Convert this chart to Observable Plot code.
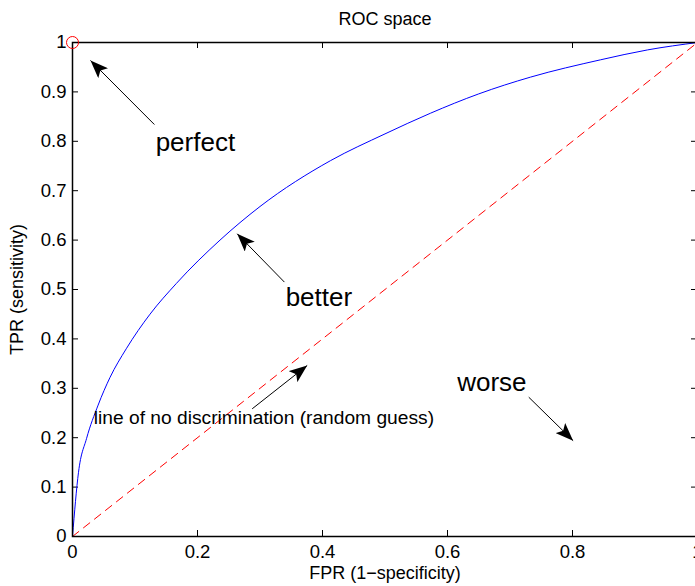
<!DOCTYPE html>
<html>
<head>
<meta charset="utf-8">
<script src="https://cdn.jsdelivr.net/npm/d3@7"></script>
<script src="https://cdn.jsdelivr.net/npm/@observablehq/plot@0.6"></script>
<style>
  html, body { margin: 0; padding: 0; background: white; overflow: hidden; }
</style>
</head>
<body>
<div id="chart"></div>
<script>
// ROC curve of a classifier (false positive rate vs true positive rate)
const fpr = [0, 0.0096, 0.0224, 0.041, 0.060, 0.086, 0.124, 0.166, 0.236, 0.300, 0.413, 0.500, 0.573, 0.650, 0.733, 0.845, 0.920, 1];
const tpr = [0, 0.130, 0.198, 0.266, 0.322, 0.380, 0.450, 0.512, 0.600, 0.668, 0.761, 0.815, 0.857, 0.896, 0.930, 0.965, 0.985, 1];

// Diagonal: line of no discrimination
const diagX = [0, 1];
const diagY = [0, 1];

// Perfect classifier point
const perfectPoint = [{x: 0, y: 1}];

// Axis ticks and their labels
const xTicks = [0, 0.2, 0.4, 0.6, 0.8, 1];
const xTickLabels = ["0", "0.2", "0.4", "0.6", "0.8", "1"];
const yTicks = [0, 0.1, 0.2, 0.3, 0.4, 0.5, 0.6, 0.7, 0.8, 0.9, 1];
const yTickLabels = ["0", "0.1", "0.2", "0.3", "0.4", "0.5", "0.6", "0.7", "0.8", "0.9", "1"];

// Annotation labels (anchored at their left edge, vertically centred)
const noteText = ["perfect", "better", "worse", "line of no discrimination (random guess)"];
const noteX = [0.133, 0.341, 0.6155, 0.0341];
const noteY = [0.798, 0.484, 0.312, 0.240];
const noteSize = [26, 26, 26, 19.2];

// Annotation arrows (tail -> head)
const arrowX1 = [0.131, 0.339, 0.2875, 0.730];
const arrowY1 = [0.834, 0.515, 0.2585, 0.282];
const arrowX2 = [0.0288, 0.2635, 0.3755, 0.801];
const arrowY2 = [0.9636, 0.6128, 0.3462, 0.194];

const curve = fpr.map((x, i) => ({x, y: tpr[i]}));
const diag = diagX.map((x, i) => ({x, y: diagY[i]}));
const notes = noteText.map((t, i) => ({t, x: noteX[i], y: noteY[i], s: noteSize[i]}));
const arrows = arrowX1.map((x1, i) => ({x1, y1: arrowY1[i], x2: arrowX2[i], y2: arrowY2[i]}));

const W = 695, H = 586;
const mL = 72, mR = -2, mT = 42, mB = 50;
const plotW = W - mL - mR, plotH = H - mT - mB;
const tickLen = 6;
const font = "'Liberation Sans', Arial, Helvetica, sans-serif";

const chart = Plot.plot({
  width: W,
  height: H,
  marginLeft: mL,
  marginRight: mR,
  marginTop: mT,
  marginBottom: mB,
  x: {domain: [0, 1]},
  y: {domain: [0, 1]},
  style: {fontFamily: font, color: "black", background: "white", overflow: "visible"},
  marks: [
    // tick labels
    Plot.axisX(xTicks, {anchor: "bottom", tickSize: 0, tickPadding: 8, fontSize: 18.5, label: null,
      tickFormat: d => xTickLabels[xTicks.indexOf(d)]}),
    Plot.axisY(yTicks, {anchor: "left", tickSize: 0, tickPadding: 6, fontSize: 18.5, label: null,
      tickFormat: d => yTickLabels[yTicks.indexOf(d)]}),
    // inward tick marks on all four sides
    Plot.tickX(xTicks, {x: d => d, insetTop: plotH - tickLen, stroke: "black", strokeWidth: 1}),
    Plot.tickX(xTicks, {x: d => d, insetBottom: plotH - tickLen, stroke: "black", strokeWidth: 1}),
    Plot.tickY(yTicks, {y: d => d, insetRight: plotW - tickLen, stroke: "black", strokeWidth: 1}),
    Plot.tickY(yTicks, {y: d => d, insetLeft: plotW - tickLen, stroke: "black", strokeWidth: 1}),
    // chance diagonal
    Plot.line(diag, {x: "x", y: "y", stroke: "#ff0000", strokeWidth: 1, strokeDasharray: "8,6"}),
    // ROC curve
    Plot.line(curve, {x: "x", y: "y", stroke: "#0000ff", strokeWidth: 1, curve: "monotone-x"}),
    // box
    Plot.frame({stroke: "black", strokeWidth: 1.5}),
    // perfect classifier marker
    Plot.dot(perfectPoint, {x: "x", y: "y", r: 6, stroke: "#ff0000", fill: "none", strokeWidth: 1}),
    // arrows
    Plot.link(arrows, {x1: "x1", y1: "y1", x2: "x2", y2: "y2", stroke: "black", strokeWidth: 1}),
    // annotation text
    Plot.text(notes, {x: "x", y: "y", text: "t", fontSize: d => d.s, textAnchor: "start", lineAnchor: "middle", fill: "black"}),
    // title and axis labels
    Plot.text(["ROC space"], {frameAnchor: "top", dy: -23, fontSize: 18, textAnchor: "middle", lineAnchor: "middle", fill: "black"}),
    Plot.text(["FPR (1\u2212specificity)"], {frameAnchor: "bottom", dy: 36.5, fontSize: 18, textAnchor: "middle", lineAnchor: "middle", fill: "black"}),
    Plot.text(["TPR (sensitivity)"], {frameAnchor: "left", dx: -55, rotate: -90, fontSize: 18, textAnchor: "middle", lineAnchor: "middle", fill: "black"})
  ]
});

// filled arrowheads on the annotation arrows
const svg = d3.select(chart.tagName.toLowerCase() === "svg" ? chart : chart.querySelector("svg"));
svg.append("defs").append("marker")
  .attr("id", "arrowhead")
  .attr("viewBox", "0 0 18 14")
  .attr("refX", 18)
  .attr("refY", 7)
  .attr("markerWidth", 18)
  .attr("markerHeight", 14)
  .attr("markerUnits", "userSpaceOnUse")
  .attr("orient", "auto")
  .append("path")
  .attr("d", "M0,0 L18,7 L0,14 L4,7 Z")
  .attr("fill", "black");
svg.selectAll("g[aria-label='link'] path").attr("marker-end", "url(#arrowhead)");

document.getElementById("chart").appendChild(chart);
</script>
</body>
</html>
